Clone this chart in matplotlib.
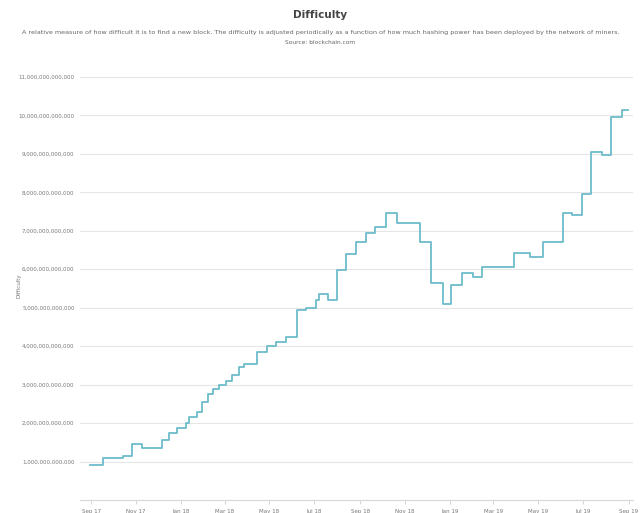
import numpy as np
import matplotlib
matplotlib.use("Agg")
import matplotlib.pyplot as plt
import matplotlib.dates as mdates
import matplotlib.ticker as mticker
import pandas as pd

# step change dates and difficulty (in trillions)
dates = ["2017-08-30", "2017-09-17", "2017-10-14", "2017-10-27", "2017-11-09",
         "2017-12-06", "2017-12-16", "2017-12-26", "2018-01-08", "2018-01-12",
         "2018-01-22", "2018-01-29", "2018-02-06", "2018-02-13", "2018-02-22",
         "2018-03-03", "2018-03-11", "2018-03-21", "2018-03-28", "2018-04-14",
         "2018-04-27", "2018-05-10", "2018-05-23", "2018-06-07", "2018-06-19",
         "2018-07-03", "2018-07-07", "2018-07-20", "2018-07-31", "2018-08-13",
         "2018-08-27", "2018-09-09", "2018-09-21", "2018-10-06", "2018-10-21",
         "2018-11-21", "2018-12-06", "2018-12-22", "2019-01-02", "2019-01-18",
         "2019-02-01", "2019-02-14", "2019-03-29", "2019-04-19", "2019-05-07",
         "2019-06-04", "2019-06-16", "2019-06-29", "2019-07-12", "2019-07-26",
         "2019-08-08", "2019-08-22", "2019-08-30"]
difficulty_t = [0.92, 1.10, 1.15, 1.45, 1.35,
                1.57, 1.75, 1.88, 2.00, 2.15,
                2.30, 2.55, 2.75, 2.90, 3.00,
                3.10, 3.25, 3.45, 3.55, 3.85,
                4.00, 4.10, 4.25, 4.95, 5.00,
                5.20, 5.35, 5.20, 5.98, 6.40,
                6.70, 6.95, 7.10, 7.45, 7.20,
                6.70, 5.65, 5.10, 5.60, 5.90,
                5.80, 6.05, 6.42, 6.33, 6.70,
                7.45, 7.40, 7.95, 9.05, 8.98,
                9.96, 10.14, 10.14]

yticks_t = list(range(1, 12))
xtick_dates = pd.date_range("2017-09-01", "2019-09-01", freq="2MS")

title = "Difficulty"
subtitle = ("A relative measure of how difficult it is to find a new block. The difficulty is adjusted "
            "periodically as a function of how much hashing power has been deployed by the network of miners.")
source = "Source: blockchain.com"

x = pd.to_datetime(dates)
y = np.array(difficulty_t) * 1e12

fig = plt.figure(figsize=(6.41, 5.13), dpi=100)
ax = fig.add_axes([0.125, 0.025, 0.862, 0.835])

ax.step(x, y, where="post", color="#6cbccc", linewidth=1.3)

ax.set_xlim(pd.Timestamp("2017-08-17"), pd.Timestamp("2019-09-06"))
ax.set_ylim(0, 11.13e12)
ax.set_yticks(np.array(yticks_t) * 1e12)
ax.yaxis.set_major_formatter(mticker.FuncFormatter(lambda v, p: "{:,.0f}".format(v)))
ax.set_xticks(xtick_dates)
ax.xaxis.set_major_formatter(mdates.DateFormatter("%b %y"))

ax.grid(axis="y", color="#e6e6e6", linewidth=0.8)
ax.set_axisbelow(True)
for s in ["top", "right", "left"]:
    ax.spines[s].set_visible(False)
ax.spines["bottom"].set_color("#d8d8d8")
ax.tick_params(axis="y", length=0, labelsize=4, labelcolor="#777777", pad=4)
ax.tick_params(axis="x", length=3, color="#d8d8d8", labelsize=4, labelcolor="#777777", pad=3)
ax.set_ylabel("Difficulty", fontsize=4, color="#777777", labelpad=10)
ax.yaxis.set_label_coords(-0.106, 0.5)

fig.text(0.5, 0.97, title, ha="center", va="center", fontsize=7.5, fontweight="bold", color="#444444")
fig.text(0.5, 0.937, subtitle, ha="center", va="center", fontsize=4.6, color="#666666")
fig.text(0.5, 0.918, source, ha="center", va="center", fontsize=4.2, color="#666666")

fig.savefig("out.png", dpi=100)
